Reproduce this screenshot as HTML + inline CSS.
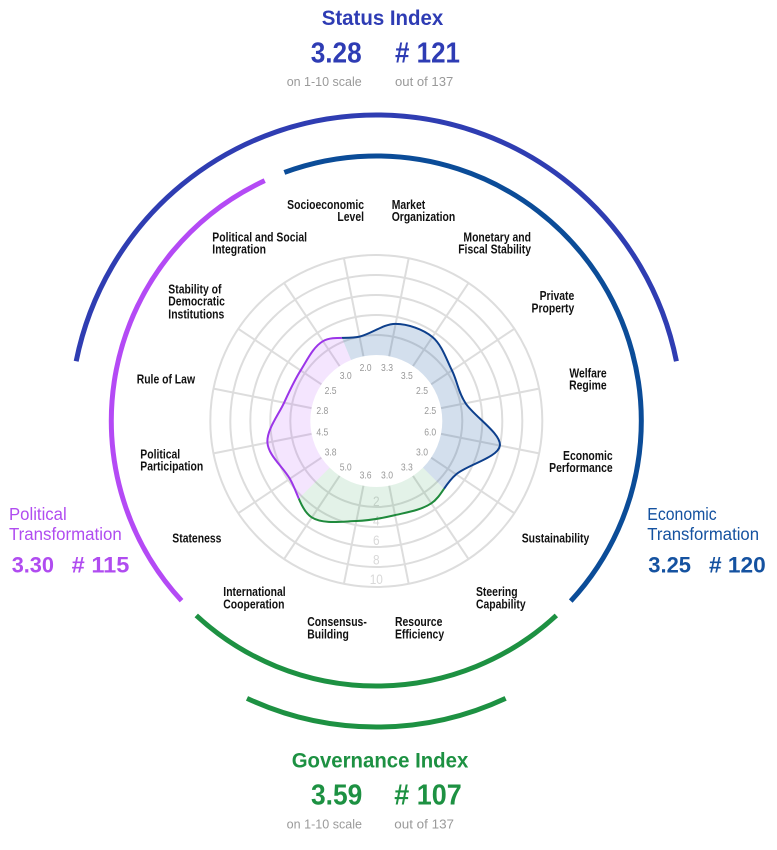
<!DOCTYPE html>
<html><head><meta charset="utf-8"><style>
html,body{margin:0;padding:0;background:#fff;}
svg{display:block;}
text{font-family:"Liberation Sans",sans-serif;}
.lb{font-size:13px;font-weight:bold;fill:#111;}
.vl{font-size:10.5px;fill:#999;}
.tk{font-size:13.5px;fill:#d9d9d9;}
</style></head><body>
<svg width="777" height="850" viewBox="0 0 777 850" xmlns="http://www.w3.org/2000/svg">
<defs>
<clipPath id="cB"><polygon points="376.3,421 223.23,51.45 376.3,21 659.14,138.16 776.3,421 659.14,703.84"/></clipPath>
<clipPath id="cG"><polygon points="376.3,421 659.14,703.84 376.3,821 93.46,703.84"/></clipPath>
<clipPath id="cP"><polygon points="376.3,421 93.46,703.84 -23.7,421 93.46,138.16 223.23,51.45"/></clipPath>
<path id="crv" d="M359.52,336.65 C371.63,333.77 383.46,323.84 395.61,323.90 C407.76,323.96 423.02,329.26 432.41,337.02 C441.80,344.78 446.44,359.40 451.96,370.44 C457.48,381.48 457.56,390.73 465.55,403.25 C473.54,415.77 501.45,433.73 499.88,445.58 C498.31,457.43 467.55,464.71 456.12,474.33 C444.69,483.95 441.48,496.52 431.30,503.32 C421.12,510.13 407.51,512.21 395.03,515.16 C382.55,518.11 370.26,520.66 356.40,521.04 C342.54,521.42 322.95,524.49 311.85,517.45 C300.76,510.41 297.23,491.25 289.83,478.78 C282.43,466.32 268.38,455.35 267.43,442.66 C266.48,429.97 278.58,414.70 284.11,402.66 C289.65,390.62 294.16,380.69 300.64,370.44 C307.12,360.19 313.16,346.81 322.97,341.18 C332.78,335.55 347.41,339.53 359.52,336.65 Z"/>
<path id="area" fill-rule="evenodd" d="M359.52,336.65 C371.63,333.77 383.46,323.84 395.61,323.90 C407.76,323.96 423.02,329.26 432.41,337.02 C441.80,344.78 446.44,359.40 451.96,370.44 C457.48,381.48 457.56,390.73 465.55,403.25 C473.54,415.77 501.45,433.73 499.88,445.58 C498.31,457.43 467.55,464.71 456.12,474.33 C444.69,483.95 441.48,496.52 431.30,503.32 C421.12,510.13 407.51,512.21 395.03,515.16 C382.55,518.11 370.26,520.66 356.40,521.04 C342.54,521.42 322.95,524.49 311.85,517.45 C300.76,510.41 297.23,491.25 289.83,478.78 C282.43,466.32 268.38,455.35 267.43,442.66 C266.48,429.97 278.58,414.70 284.11,402.66 C289.65,390.62 294.16,380.69 300.64,370.44 C307.12,360.19 313.16,346.81 322.97,341.18 C332.78,335.55 347.41,339.53 359.52,336.65 Z M442.3,421 A66,66 0 1 0 310.3,421 A66,66 0 1 0 442.3,421 Z"/>
</defs>
<rect width="777" height="850" fill="#fff"/>

<g fill="none" stroke="#dddddd" stroke-width="2">
<circle cx="376.3" cy="421" r="86"/>
<circle cx="376.3" cy="421" r="106"/>
<circle cx="376.3" cy="421" r="126"/>
<circle cx="376.3" cy="421" r="146"/>
<circle cx="376.3" cy="421" r="166"/>
<g>
<line x1="376.3" y1="355" x2="376.3" y2="255" transform="rotate(11.25 376.3 421)"/>
<line x1="376.3" y1="355" x2="376.3" y2="255" transform="rotate(33.75 376.3 421)"/>
<line x1="376.3" y1="355" x2="376.3" y2="255" transform="rotate(56.25 376.3 421)"/>
<line x1="376.3" y1="355" x2="376.3" y2="255" transform="rotate(78.75 376.3 421)"/>
<line x1="376.3" y1="355" x2="376.3" y2="255" transform="rotate(101.25 376.3 421)"/>
<line x1="376.3" y1="355" x2="376.3" y2="255" transform="rotate(123.75 376.3 421)"/>
<line x1="376.3" y1="355" x2="376.3" y2="255" transform="rotate(146.25 376.3 421)"/>
<line x1="376.3" y1="355" x2="376.3" y2="255" transform="rotate(168.75 376.3 421)"/>
<line x1="376.3" y1="355" x2="376.3" y2="255" transform="rotate(191.25 376.3 421)"/>
<line x1="376.3" y1="355" x2="376.3" y2="255" transform="rotate(213.75 376.3 421)"/>
<line x1="376.3" y1="355" x2="376.3" y2="255" transform="rotate(236.25 376.3 421)"/>
<line x1="376.3" y1="355" x2="376.3" y2="255" transform="rotate(258.75 376.3 421)"/>
<line x1="376.3" y1="355" x2="376.3" y2="255" transform="rotate(281.25 376.3 421)"/>
<line x1="376.3" y1="355" x2="376.3" y2="255" transform="rotate(303.75 376.3 421)"/>
<line x1="376.3" y1="355" x2="376.3" y2="255" transform="rotate(326.25 376.3 421)"/>
<line x1="376.3" y1="355" x2="376.3" y2="255" transform="rotate(348.75 376.3 421)"/>
</g>
</g>

<g class="tk" text-anchor="middle">
<text transform="translate(376.3 0) scale(0.88 1)" x="0" y="506">2</text>
<text transform="translate(376.3 0) scale(0.88 1)" x="0" y="525.5">4</text>
<text transform="translate(376.3 0) scale(0.88 1)" x="0" y="545">6</text>
<text transform="translate(376.3 0) scale(0.88 1)" x="0" y="564.5">8</text>
<text transform="translate(376.3 0) scale(0.88 1)" x="0" y="584">10</text>
</g>

<use href="#area" fill="rgba(11,79,156,0.18)" clip-path="url(#cB)"/>
<use href="#area" fill="rgba(28,145,64,0.12)" clip-path="url(#cG)"/>
<use href="#area" fill="rgba(179,71,245,0.14)" clip-path="url(#cP)"/>

<use href="#crv" fill="none" stroke="#0d3f8c" stroke-width="2" clip-path="url(#cB)"/>
<use href="#crv" fill="none" stroke="#1f8a3c" stroke-width="2" clip-path="url(#cG)"/>
<use href="#crv" fill="none" stroke="#9b35e8" stroke-width="2" clip-path="url(#cP)"/>

<g class="vl" text-anchor="middle">
<text transform="translate(365.57 0) scale(0.82 1)" x="0" y="370.8">2.0</text>
<text transform="translate(387.03 0) scale(0.82 1)" x="0" y="370.8">3.3</text>
<text transform="translate(406.86 0) scale(0.82 1)" x="0" y="379.0">3.5</text>
<text transform="translate(422.03 0) scale(0.82 1)" x="0" y="394.2">2.5</text>
<text transform="translate(430.24 0) scale(0.82 1)" x="0" y="414.0">2.5</text>
<text transform="translate(430.24 0) scale(0.82 1)" x="0" y="435.5">6.0</text>
<text transform="translate(422.03 0) scale(0.82 1)" x="0" y="455.3">3.0</text>
<text transform="translate(406.86 0) scale(0.82 1)" x="0" y="470.5">3.3</text>
<text transform="translate(387.03 0) scale(0.82 1)" x="0" y="478.7">3.0</text>
<text transform="translate(365.57 0) scale(0.82 1)" x="0" y="478.7">3.6</text>
<text transform="translate(345.74 0) scale(0.82 1)" x="0" y="470.5">5.0</text>
<text transform="translate(330.57 0) scale(0.82 1)" x="0" y="455.3">3.8</text>
<text transform="translate(322.36 0) scale(0.82 1)" x="0" y="435.5">4.5</text>
<text transform="translate(322.36 0) scale(0.82 1)" x="0" y="414.0">2.8</text>
<text transform="translate(330.57 0) scale(0.82 1)" x="0" y="394.2">2.5</text>
<text transform="translate(345.74 0) scale(0.82 1)" x="0" y="379.0">3.0</text>
</g>

<g class="lb">
<text transform="translate(364 0) scale(0.8 1)" text-anchor="end"><tspan x="0" y="209">Socioeconomic</tspan><tspan x="0" y="221">Level</tspan></text>
<text transform="translate(391.7 0) scale(0.8 1)"><tspan x="0" y="209">Market</tspan><tspan x="0" y="221">Organization</tspan></text>
<text transform="translate(531 0) scale(0.8 1)" text-anchor="end"><tspan x="0" y="241.7">Monetary and</tspan><tspan x="0" y="253.7">Fiscal Stability</tspan></text>
<text transform="translate(574.3 0) scale(0.8 1)" text-anchor="end"><tspan x="0" y="300">Private</tspan><tspan x="0" y="312.3">Property</tspan></text>
<text transform="translate(606.7 0) scale(0.8 1)" text-anchor="end"><tspan x="0" y="377.3">Welfare</tspan><tspan x="0" y="389.3">Regime</tspan></text>
<text transform="translate(612.7 0) scale(0.8 1)" text-anchor="end"><tspan x="0" y="460">Economic</tspan><tspan x="0" y="472">Performance</tspan></text>
<text transform="translate(589.3 0) scale(0.8 1)" text-anchor="end"><tspan x="0" y="542.7">Sustainability</tspan></text>
<text transform="translate(476 0) scale(0.8 1)"><tspan x="0" y="596">Steering</tspan><tspan x="0" y="608.7">Capability</tspan></text>
<text transform="translate(395 0) scale(0.8 1)"><tspan x="0" y="626">Resource</tspan><tspan x="0" y="638.3">Efficiency</tspan></text>
<text transform="translate(307.3 0) scale(0.8 1)"><tspan x="0" y="626">Consensus-</tspan><tspan x="0" y="638.3">Building</tspan></text>
<text transform="translate(223.3 0) scale(0.8 1)"><tspan x="0" y="596">International</tspan><tspan x="0" y="608.7">Cooperation</tspan></text>
<text transform="translate(172.3 0) scale(0.8 1)"><tspan x="0" y="542.7">Stateness</tspan></text>
<text transform="translate(140.3 0) scale(0.8 1)"><tspan x="0" y="458.3">Political</tspan><tspan x="0" y="470.7">Participation</tspan></text>
<text transform="translate(136.7 0) scale(0.8 1)"><tspan x="0" y="383.3">Rule of Law</tspan></text>
<text transform="translate(168.3 0) scale(0.8 1)"><tspan x="0" y="293.3">Stability of</tspan><tspan x="0" y="305.7">Democratic</tspan><tspan x="0" y="318.3">Institutions</tspan></text>
<text transform="translate(212.3 0) scale(0.8 1)"><tspan x="0" y="241.7">Political and Social</tspan><tspan x="0" y="253.3">Integration</tspan></text>
</g>

<g fill="none" stroke-width="5">
<path d="M76.18,361.30 A306,306 0 0 1 676.42,361.30" stroke="#2f3db2"/>
<path d="M505.62,698.33 A306,306 0 0 1 247.0,698.33" stroke="#1d9142"/>
<path d="M284.36,172.46 A265,265 0 0 1 570.74,601.05" stroke="#0b4c98"/>
<path d="M556.35,615.44 A265,265 0 0 1 196.25,615.44" stroke="#1d9142"/>
<path d="M181.55,600.71 A265,265 0 0 1 264.72,180.63" stroke="#b44af5"/>
</g>

<g fill="#2e3cb4" font-weight="bold">
<text x="321.7" y="25" font-size="21.7" textLength="121.6" lengthAdjust="spacingAndGlyphs">Status Index</text>
<text x="310.7" y="62.3" font-size="28.5" textLength="51" lengthAdjust="spacingAndGlyphs">3.28</text>
<text x="395" y="62.3" font-size="28.5" textLength="65" lengthAdjust="spacingAndGlyphs"># 121</text>
</g>
<g fill="#9a9a9a" font-size="12.5">
<text x="286.7" y="86" textLength="75" lengthAdjust="spacingAndGlyphs">on 1-10 scale</text>
<text x="395" y="86" textLength="58.3" lengthAdjust="spacingAndGlyphs">out of 137</text>
<text x="286.7" y="828.3" textLength="75.3" lengthAdjust="spacingAndGlyphs">on 1-10 scale</text>
<text x="394.3" y="828.3" textLength="59.7" lengthAdjust="spacingAndGlyphs">out of 137</text>
</g>

<g fill="#1d9142" font-weight="bold">
<text x="291.7" y="767.3" font-size="21.7" textLength="176.6" lengthAdjust="spacingAndGlyphs">Governance Index</text>
<text x="311" y="804.3" font-size="28.5" textLength="51.3" lengthAdjust="spacingAndGlyphs">3.59</text>
<text x="394.3" y="804.3" font-size="28.5" textLength="67.4" lengthAdjust="spacingAndGlyphs"># 107</text>
</g>

<g fill="#b04cf0">
<text x="9" y="520" font-size="17.5" textLength="57.7" lengthAdjust="spacingAndGlyphs">Political</text>
<text x="9" y="540" font-size="17.5" textLength="112.7" lengthAdjust="spacingAndGlyphs">Transformation</text>
<text x="11.7" y="572.7" font-size="22" font-weight="bold" textLength="42.3" lengthAdjust="spacingAndGlyphs">3.30</text>
<text x="71.7" y="572.7" font-size="22" font-weight="bold" textLength="57.6" lengthAdjust="spacingAndGlyphs"># 115</text>
</g>

<g fill="#1552a0">
<text x="647.3" y="520" font-size="17.5" textLength="69.4" lengthAdjust="spacingAndGlyphs">Economic</text>
<text x="647.3" y="540" font-size="17.5" textLength="111.7" lengthAdjust="spacingAndGlyphs">Transformation</text>
<text x="648.3" y="572.3" font-size="22" font-weight="bold" textLength="42.7" lengthAdjust="spacingAndGlyphs">3.25</text>
<text x="709" y="572.3" font-size="22" font-weight="bold" textLength="56.7" lengthAdjust="spacingAndGlyphs"># 120</text>
</g>
</svg>
</body></html>
